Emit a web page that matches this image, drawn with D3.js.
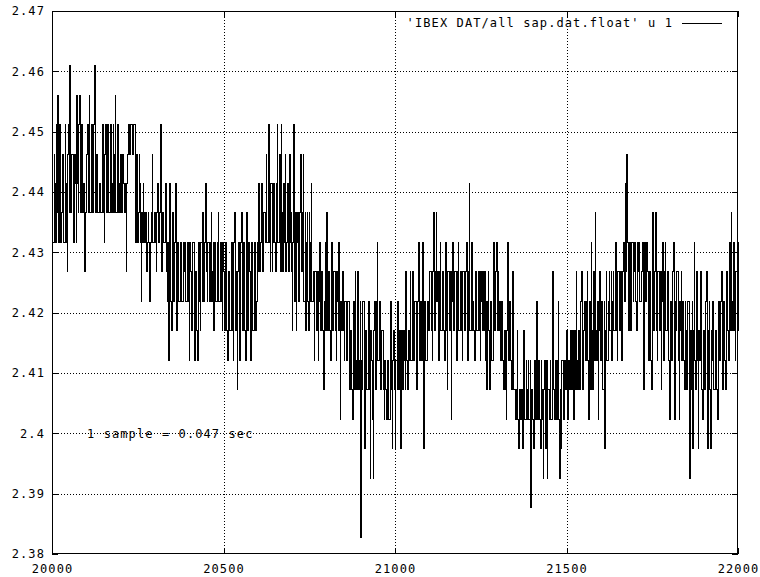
<!DOCTYPE html>
<html>
<head>
<meta charset="utf-8">
<script src="https://cdn.jsdelivr.net/npm/d3@7"></script>
<style>
  body { margin: 0; background: #fff; }
  text { font-family: "DejaVu Sans Mono", monospace; font-size: 12px; letter-spacing: 1.1px; fill: #000; }
</style>
</head>
<body>
<div id="d3_div"></div>
<script>
// Samples, one every 2 samples starting at 20000.
// Each character is an ADC level above code 488 (base 17: 0-9, a-g),
// one level = 10/2048 V. One row = 100 samples (spaces are only for reading).
var sampleStart = 20000,
    sampleStep = 2,
    adcBase = 488,
    adcStep = 10 / 2048;

var levelRows = [
  "da ad ca eb fb ae ea bd da ae ca 9d eb gb bd da ad ca fc be fb be eb ca 9b",
  "bd eb fb be eb ce gb bd cb bc cb bc eb ad eb be eb be eb ce bd fb be eb cb",
  "db bd cb bc 9c de ed de ed de ec ad da bd ca 8b ac ba ab 9a ba 8a ab da ab",
  "ba 9b ca ab ea 9b ba ab c9 8a 6a c8 7a b8 8a c8 7a a8 8a a8 8a 9a a8 8a a8",
  "6a 98 7a a8 69 97 6a 8a 7a a8 b8 8a c9 8a a8 8a b8 9a 7a a8 8a b8 8a a8 7a",
  "97 7a a7 69 97 7a a7 6a b7 79 59 a7 6a b7 7a a7 69 b7 7a 97 6a a7 7a a7 8a",
  "9c b9 ac c9 9b ba da ac ea 9c c9 ac ca 9c ea ac d9 eb 9c ca d9 ac c9 da b9",
  "7a e8 8b 7a b8 8b d9 9b d8 8b 7a b8 7b a8 c8 89 69 97 79 68 a7 79 97 58 a7",
  "b7 79 97 69 a7 79 97 69 87 a7 48 79 97 68 86 68 85 57 75 47 85 96 58 95 68",
  "06 58 85 37 75 58 85 27 64 27 85 58 a6 68 85 57 75 46 54 46 64 47 85 36 75",
  "36 65 85 57 36 75 57 65 96 57 76 96 68 96 68 86 58 a6 68 86 a7 38 86 68 87",
  "79 97 69 b7 79 b8 97 69 a7 79 97 69 a7 59 97 79 48 a7 79 97 69 a7 79 97 69",
  "97 79 a7 69 c7 79 a7 87 69 97 79 97 69 87 97 79 68 58 97 58 86 69 a7 79 a7",
  "97 78 68 86 57 75 47 a7 68 86 57 95 54 45 74 35 54 45 35 74 46 54 64 46 15",
  "54 36 64 84 46 64 36 54 25 64 36 25 54 64 46 95 54 64 46 84 25 36 64 46 65",
  "75 46 65 75 57 46 75 96 57 75 68 96 57 86 68 96 47 85 a7 58 96 b7 68 47 96",
  "68 85 58 37 96 68 97 79 68 97 79 a7 69 97 79 68 9a a8 c9 da 97 a8 7a a8 9a",
  "a8 7a 9a a8 89 9a 58 a8 8a 97 69 96 58 b7 79 b7 69 97 79 58 a7 69 a7 79 96",
  "48 86 69 a7 48 79 96 48 79 68 86 58 75 68 85 27 58 37 a6 58 96 37 68 95 47",
  "75 58 96 37 85 37 68 85 57 75 47 86 68 96 58 86 59 97 69 a7 b8 79 a7 69 97 a"
];

var yTicks = [2.38, 2.39, 2.40, 2.41, 2.42, 2.43, 2.44, 2.45, 2.46, 2.47];
var xTicks = [20000, 20500, 21000, 21500, 22000];
var legendLabel = "'IBEX DAT/all sap.dat.float' u 1";
var noteLabel = "1 sample = 0.047 sec";

var data = levelRows.join("").replace(/\s/g, "").split("").map(function(ch, i) {
  return { t: sampleStart + i * sampleStep, v: (adcBase + parseInt(ch, 17)) * adcStep };
});

var margin = {top: 11, right: 22, bottom: 23, left: 52},
    width = 760 - margin.left - margin.right,
    height = 577 - margin.top - margin.bottom;

var root = d3.select("#d3_div")
  .append("svg")
    .attr("width", width + margin.left + margin.right)
    .attr("height", height + margin.top + margin.bottom);

var svg = root.append("g")
    .attr("transform", "translate(" + margin.left + "," + margin.top + ")");

var x = d3.scaleLinear().domain([20000, 22000]).range([0, width]);
var y = d3.scaleLinear().domain([2.38, 2.47]).range([height, 0]);

// dotted grid
svg.append("g")
  .selectAll("line")
  .data(yTicks.slice(1, -1))
  .enter().append("line")
    .attr("x1", 0).attr("x2", width)
    .attr("y1", function(d) { return Math.round(y(d)) + 0.5; })
    .attr("y2", function(d) { return Math.round(y(d)) + 0.5; })
    .attr("stroke", "#000")
    .attr("stroke-dasharray", "1,2");

svg.append("g")
  .selectAll("line")
  .data(xTicks.slice(1, -1))
  .enter().append("line")
    .attr("y1", 0).attr("y2", height)
    .attr("x1", function(d) { return Math.round(x(d)) + 0.5; })
    .attr("x2", function(d) { return Math.round(x(d)) + 0.5; })
    .attr("stroke", "#000")
    .attr("stroke-dasharray", "1,2");

// the trace: samples are closer than a pixel, so each one becomes a vertical stroke
svg.append("path")
  .datum(data)
  .attr("fill", "none")
  .attr("stroke", "#000")
  .attr("stroke-width", 1)
  .attr("shape-rendering", "crispEdges")
  .attr("d", d3.line()
    .curve(d3.curveStepAfter)
    .x(function(d) { return x(d.t); })
    .y(function(d) { return y(d.v); }));

// axes with inward ticks
function yFmt(d) { return String(+d.toFixed(2)); }

var leftAxis = svg.append("g")
  .call(d3.axisLeft(y).tickValues(yTicks).tickSize(-6).tickPadding(7).tickFormat(yFmt));
var rightAxis = svg.append("g")
  .attr("transform", "translate(" + width + ",0)")
  .call(d3.axisRight(y).tickValues(yTicks).tickSize(-6).tickFormat(""));
var bottomAxis = svg.append("g")
  .attr("transform", "translate(0," + height + ")")
  .call(d3.axisBottom(x).tickValues(xTicks).tickSize(-6).tickPadding(10).tickFormat(d3.format("d")));
var topAxis = svg.append("g")
  .call(d3.axisTop(x).tickValues(xTicks).tickSize(-6).tickFormat(""));

[leftAxis, rightAxis, bottomAxis, topAxis].forEach(function(g) {
  g.select(".domain").remove();
  g.selectAll("line").attr("stroke", "#000").attr("shape-rendering", "crispEdges");
  g.selectAll("text")
    .attr("fill", "#000")
    .style("font-family", "'DejaVu Sans Mono', monospace")
    .style("font-size", "12px");
});

// border
svg.append("rect")
  .attr("x", 0.5).attr("y", 0.5)
  .attr("width", width - 1).attr("height", height - 1)
  .attr("fill", "none")
  .attr("stroke", "#000");

// legend
root.append("text")
  .attr("x", 673)
  .attr("y", 27)
  .attr("text-anchor", "end")
  .text(legendLabel);

root.append("line")
  .attr("x1", 682).attr("x2", 722)
  .attr("y1", 23.5).attr("y2", 23.5)
  .attr("stroke", "#000");

// note
root.append("text")
  .attr("x", 87)
  .attr("y", 438)
  .text(noteLabel);
</script>
</body>
</html>
